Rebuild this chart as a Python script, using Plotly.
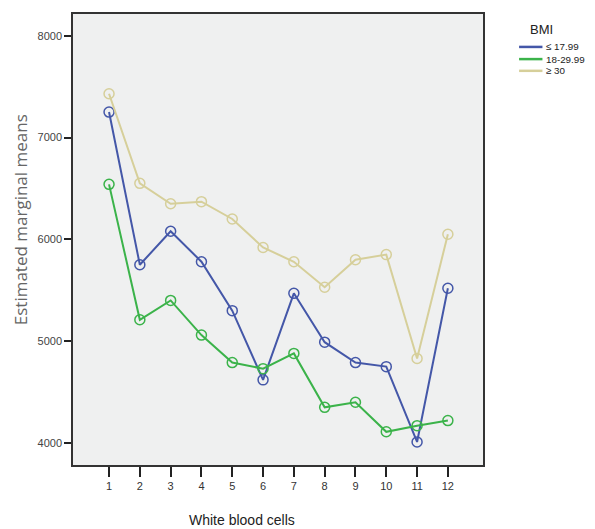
import plotly.graph_objects as go

categories = [1, 2, 3, 4, 5, 6, 7, 8, 9, 10, 11, 12]
bmi_low = [7250, 5750, 6080, 5780, 5300, 4620, 5470, 4990, 4790, 4750, 4010, 5520]
bmi_mid = [6540, 5210, 5400, 5060, 4790, 4730, 4880, 4350, 4400, 4110, 4170, 4220]
bmi_high = [7430, 6550, 6350, 6370, 6200, 5920, 5780, 5530, 5800, 5850, 4830, 6050]
series_names = ["≤ 17.99", "18-29.99", "≥ 30"]
colors = ["#4457a8", "#3bb34a", "#d6cf9a"]
y_ticks = [4000, 5000, 6000, 7000, 8000]

fig = go.Figure()
for vals, name, col in zip([bmi_low, bmi_mid, bmi_high], series_names, colors):
    fig.add_trace(go.Scatter(
        x=categories, y=vals, mode="lines+markers", name=name, showlegend=False,
        line=dict(color=col, width=2),
        marker=dict(symbol="circle-open", size=10, color=col, line=dict(width=1.5)),
    ))

# legend drawn manually (compact spacing as in reference)
legend_y = [0.927, 0.900, 0.874]
annotations = [dict(text="BMI", xref="paper", yref="paper", x=1.11, y=0.965,
                    xanchor="left", yanchor="middle", showarrow=False,
                    font=dict(size=13, color="#222222"))]
shapes = []
for name, col, ly in zip(series_names, colors, legend_y):
    shapes.append(dict(type="line", xref="paper", yref="paper", x0=1.088, x1=1.145,
                       y0=ly, y1=ly, line=dict(color=col, width=2.5)))
    annotations.append(dict(text=name, xref="paper", yref="paper", x=1.149, y=ly,
                            xanchor="left", yanchor="middle", showarrow=False,
                            font=dict(size=9.8, color="#222222")))
annotations.append(dict(text="White blood cells", xref="paper", yref="paper",
                        x=0.412, y=-0.122, xanchor="center", yanchor="middle",
                        showarrow=False, font=dict(size=14, color="#222222")))
annotations.append(dict(text="Estimated marginal means", xref="paper", yref="paper",
                        x=-0.129, y=0.543, xanchor="center", yanchor="middle",
                        textangle=-90, showarrow=False,
                        font=dict(family="Open Sans, sans-serif", size=17, color="#666666")))

# page body has an 8px default margin: figure is sized so its plot area lands where the reference's does
fig.update_layout(
    width=587, height=521,
    margin=dict(l=65, r=112, t=6, b=64, autoexpand=False),
    paper_bgcolor="white",
    plot_bgcolor="#eff0f0",
    font=dict(family="Liberation Sans, Arial, sans-serif", color="#333333", size=11),
    showlegend=False,
    annotations=annotations,
    shapes=shapes,
    xaxis=dict(
        range=[-0.17, 13.14], tickmode="array", tickvals=categories,
        ticktext=[str(c) for c in categories],
        ticks="outside", ticklen=10, tickwidth=2, tickcolor="#222222",
        showgrid=False, zeroline=False,
        showline=True, linecolor="#333333", linewidth=1.5, mirror=True,
        tickfont=dict(size=11, color="#333333"),
    ),
    yaxis=dict(
        range=[3784, 8213], tickmode="array", tickvals=y_ticks,
        ticks="outside", ticklen=7, tickwidth=2, tickcolor="#222222",
        showgrid=False, zeroline=False,
        showline=True, linecolor="#333333", linewidth=1.5, mirror=True,
        tickfont=dict(size=11, color="#444444"),
    ),
)

fig.write_html("out.html")
